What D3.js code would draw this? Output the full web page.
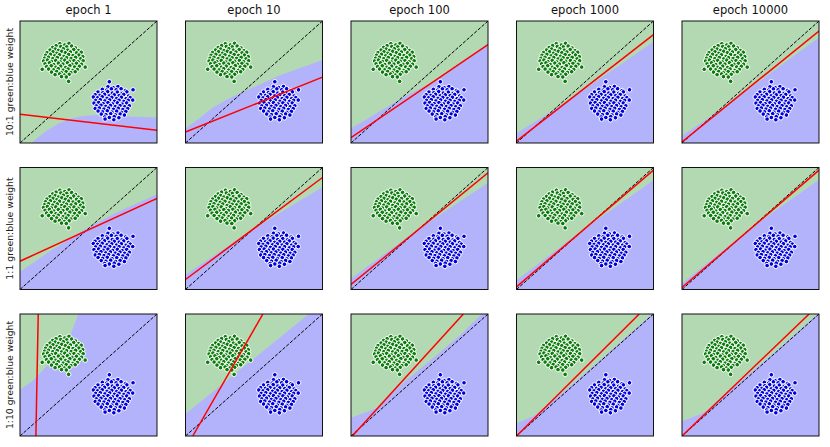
<!DOCTYPE html>
<html>
<head>
<meta charset="utf-8">
<script src="https://cdn.jsdelivr.net/npm/d3@7"></script>
<style>
  body { margin: 0; background: #fff; }
  svg { display: block; font-family: "DejaVu Sans", sans-serif; }
</style>
</head>
<body>
<div id="chart"></div>
<script>
// column titles and row labels
const epochs = ['epoch 1', 'epoch 10', 'epoch 100', 'epoch 1000', 'epoch 10000'];
const rowLabels = ['10:1 green:blue weight', '1:1 green:blue weight', '1:10 green:blue weight'];

// green class samples (data units, 0..10)
const greenPoints = [
  [2.91,8.14],[3.27,8.03],[3.58,8.17],[2.63,7.98],
  [2.38,7.83],[2.98,7.91],[3.41,7.88],[3.77,7.95],[4.05,7.79],
  [2.19,7.62],[2.57,7.70],[2.81,7.58],[3.16,7.73],[3.49,7.61],[3.92,7.66],[4.27,7.57],
  [1.97,7.41],[2.41,7.48],[2.69,7.35],[3.05,7.52],[3.31,7.40],[3.68,7.46],[4.13,7.39],[4.47,7.44],
  [1.86,7.19],[2.22,7.27],[2.53,7.14],[2.88,7.23],[3.21,7.10],[3.55,7.25],[3.87,7.17],[4.30,7.21],[4.58,7.08],
  [1.79,6.95],[2.08,7.03],[2.39,6.91],[2.72,7.01],[3.04,6.89],[3.40,6.99],[3.73,6.93],[4.06,7.02],[4.42,6.90],
  [1.72,6.72],[2.00,6.80],[2.29,6.68],[2.61,6.77],[2.95,6.64],[3.27,6.79],[3.59,6.70],[3.94,6.76],[4.24,6.66],[4.61,6.74],
  [1.83,6.49],[2.15,6.57],[2.47,6.43],[2.80,6.55],[3.13,6.47],[3.46,6.58],[3.80,6.45],[4.12,6.53],[4.49,6.46],
  [1.94,6.26],[2.28,6.33],[2.62,6.21],[2.97,6.30],[3.33,6.19],[3.64,6.34],[3.99,6.23],[4.33,6.29],[4.76,6.22],
  [1.62,6.04],[2.09,6.06],[2.45,5.99],[2.79,6.09],[3.15,5.97],[3.51,6.07],[3.86,5.95],[4.18,6.03],
  [2.30,5.81],[2.68,5.86],[3.01,5.77],[3.37,5.85],[3.72,5.78],[4.03,5.84],
  [2.56,5.60],[2.89,5.66],[3.24,5.57],[3.59,5.63],
  [3.03,5.44],[3.38,5.41],
  [3.55,5.05]
];

// blue class samples
const bluePoints = [
  [6.52,5.02],
  [6.42,4.61],[6.79,4.55],[7.15,4.63],
  [6.01,4.40],[6.33,4.33],[6.67,4.44],[7.02,4.36],[7.38,4.45],[7.71,4.30],[8.25,4.36],
  [5.69,4.18],[6.05,4.12],[6.40,4.21],[6.74,4.09],[7.10,4.17],[7.45,4.07],[7.80,4.19],
  [5.48,3.96],[5.83,3.90],[6.17,3.99],[6.51,3.86],[6.88,3.95],[7.24,3.88],[7.57,3.98],[7.93,3.85],
  [5.35,3.77],[5.66,3.70],[6.00,3.79],[6.35,3.66],[6.70,3.74],[7.05,3.64],[7.40,3.75],[7.74,3.63],[8.05,3.72],
  [5.52,3.49],[5.86,3.55],[6.20,3.45],[6.55,3.53],[6.89,3.42],[7.23,3.51],[7.58,3.41],[7.90,3.50],[8.23,3.52],
  [5.40,3.27],[5.74,3.32],[6.07,3.22],[6.42,3.31],[6.76,3.20],[7.11,3.29],[7.45,3.19],[7.79,3.28],
  [5.57,3.04],[5.91,3.10],[6.26,3.00],[6.60,3.08],[6.95,2.98],[7.30,3.07],[7.64,2.97],[7.98,3.05],
  [5.49,2.83],[5.79,2.87],[6.13,2.78],[6.47,2.86],[6.82,2.76],[7.17,2.85],[7.51,2.75],[7.86,2.82],
  [5.70,2.62],[6.03,2.55],[6.37,2.64],[6.71,2.53],[7.06,2.61],[7.40,2.51],[7.73,2.59],
  [5.93,2.37],[6.27,2.32],[6.62,2.40],[6.97,2.30],[7.31,2.38],[7.62,2.29],
  [6.18,2.13],[6.52,2.09],[6.88,2.16],[7.22,2.07],
  [6.21,1.96],[6.85,1.90]
];

// blue decision region outline per panel, row by row
const blueRegions = [
  [[0.85,0],[1.3,0.45],[2.0,1.05],[2.8,1.6],[3.6,1.95],[4.5,2.2],[5.5,2.3],[7,2.2],[8.5,2.15],[10,2.08],[10,0]],
  [[0,0],[0,1.2],[1,2.0],[2,2.9],[3,3.55],[4,4.1],[5,4.6],[6,5.1],[7,5.6],[8,6.0],[9,6.4],[10,6.8],[10,0]],
  [[0,0],[0,1.2],[1,1.85],[2,2.55],[3,3.2],[4,3.85],[5,4.45],[6,5.0],[7,5.8],[8,6.6],[9,7.35],[10,8.15],[10,0]],
  [[0,0],[0,0.8],[2,2.2],[4,3.65],[6,5.2],[8,6.75],[10,8.3],[10,0]],
  [[0,0],[0,0.6],[2,2.1],[4,3.7],[6,5.35],[8,7.0],[10,8.65],[10,0]],

  [[0,0],[0,1.45],[2,3.0],[4.6,4.86],[7,6.3],[10,7.8],[10,0]],
  [[0,0],[0,1.2],[5,5.0],[10,8.4],[10,0]],
  [[0,0],[0,0.9],[5,5.0],[10,8.75],[10,0]],
  [[0,0],[0,0.75],[5,5.0],[10,8.95],[10,0]],
  [[0,0],[0,0.5],[5,5.0],[10,9.0],[10,0]],

  [[0,0],[0,3.8],[1,4.6],[2,5.8],[3,7.0],[3.6,8.1],[4.0,9.2],[4.25,10],[10,10],[10,0]],
  [[0,0],[0,1.8],[4.5,5.9],[9,10],[10,10],[10,0]],
  [[0,0],[0,1.5],[1.9,2.3],[4,4.55],[6,6.4],[8,8.3],[9.55,10],[10,10],[10,0]],
  [[0,0],[0,1.05],[1.2,1.6],[3,3.2],[6,6.1],[9.9,10],[10,10],[10,0]],
  [[0,0],[0,1.2],[1.6,1.9],[4,4.2],[7,7.1],[9.9,10],[10,10],[10,0]]
];

// learned separating line per panel (two end points)
const redLines = [
  [[0,2.35],[10,1.05]], [[0,0.9],[10,5.4]], [[0,0.44],[10,8.06]], [[0,0.16],[10,8.88]], [[0,0.08],[10,9.18]],
  [[0,2.32],[10,7.46]], [[0,0.82],[10,9.18]], [[0,0.41],[10,9.56]], [[0,0.22],[10,9.78]], [[0,0.16],[10,9.78]],
  [[1.16,0],[1.33,10]], [[0.53,0],[5.65,10]], [[0.1,0],[8.2,10]], [[0,0],[8.96,10]], [[0,0],[9.28,10]]
];

// ideal boundary (dashed diagonal)
const idealLine = [[0,0],[10,10]];

const W = 830, H = 447;
const panelW = 137, panelH = 122;
const left0 = 20, top0 = 21;
const stepX = 165.5, stepY = 146.5;

const xScale = d3.scaleLinear().domain([0, 10]).range([0, panelW]);
const yScale = d3.scaleLinear().domain([0, 10]).range([panelH, 0]);

const svg = d3.select('#chart')
  .append('svg')
  .attr('width', W)
  .attr('height', H);

const lineGen = d3.line()
  .x(d => xScale(d[0]))
  .y(d => yScale(d[1]));

/**
 * 绘制一类样本点
 */
function drawPoints(parent, points, color) {
  parent.append('g')
    .selectAll('circle')
    .data(points)
    .enter()
    .append('circle')
    .attr('cx', d => xScale(d[0]))
    .attr('cy', d => yScale(d[1]))
    .attr('r', 2.3)
    .attr('fill', color)
    .attr('stroke', '#fff')
    .attr('stroke-width', 1);
}

/**
 * 绘制单个面板
 */
function drawPanel(row, col) {
  const idx = row * epochs.length + col;
  const g = svg.append('g')
    .attr('transform', `translate(${left0 + col * stepX},${top0 + row * stepY})`);

  const clipId = `clip-${idx}`;
  g.append('clipPath')
    .attr('id', clipId)
    .append('rect')
    .attr('width', panelW)
    .attr('height', panelH);

  const inner = g.append('g').attr('clip-path', `url(#${clipId})`);

  // 背景：绿色区域
  inner.append('rect')
    .attr('width', panelW)
    .attr('height', panelH)
    .attr('fill', '#b3d9b3');

  // 蓝色区域
  inner.append('path')
    .attr('d', lineGen(blueRegions[idx]) + 'Z')
    .attr('fill', '#b3b3fc');

  // 理想分界线
  inner.append('path')
    .attr('d', lineGen(idealLine))
    .attr('stroke', '#000')
    .attr('stroke-width', 1)
    .attr('stroke-dasharray', '3.4,1.6')
    .attr('fill', 'none');

  drawPoints(inner, greenPoints, '#0a7d0a');
  drawPoints(inner, bluePoints, '#0000e0');

  // 模型分界线
  inner.append('path')
    .attr('d', lineGen(redLines[idx]))
    .attr('stroke', '#f00')
    .attr('stroke-width', 1.5)
    .attr('fill', 'none');

  // 边框
  g.append('rect')
    .attr('width', panelW)
    .attr('height', panelH)
    .attr('fill', 'none')
    .attr('stroke', '#111')
    .attr('stroke-width', 1);
}

for (let r = 0; r < rowLabels.length; r++) {
  for (let c = 0; c < epochs.length; c++) {
    drawPanel(r, c);
  }
}

// 列标题
svg.append('g')
  .selectAll('text')
  .data(epochs)
  .enter()
  .append('text')
  .attr('x', (d, i) => left0 + i * stepX + panelW / 2)
  .attr('y', 14)
  .attr('text-anchor', 'middle')
  .attr('font-size', 11.5)
  .attr('fill', '#111')
  .text(d => d);

// 行标签
svg.append('g')
  .selectAll('text')
  .data(rowLabels)
  .enter()
  .append('text')
  .attr('transform', (d, i) => `translate(13,${top0 + i * stepY + panelH / 2}) rotate(-90)`)
  .attr('text-anchor', 'middle')
  .attr('font-size', 9.3)
  .attr('fill', '#222')
  .text(d => d);
</script>
</body>
</html>
